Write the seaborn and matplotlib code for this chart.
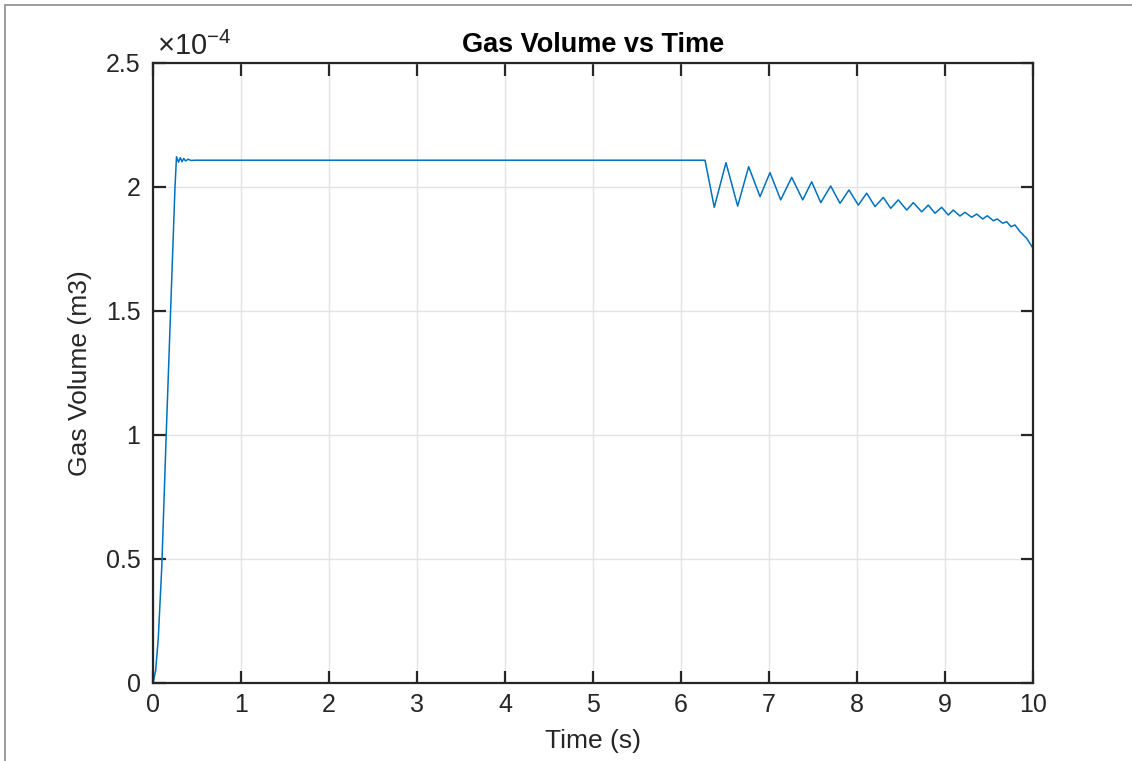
import numpy as np
import pandas as pd
import matplotlib
matplotlib.use("Agg")
import matplotlib.pyplot as plt
from matplotlib.ticker import FuncFormatter
from matplotlib.patches import Rectangle
import seaborn as sns

# ---- data (time in s, gas volume in units of 1e-4 m3) ----
time_s = [0.0, 0.03, 0.06, 0.10, 0.15, 0.20, 0.25, 0.267,
          0.29, 0.31, 0.33, 0.35, 0.37, 0.40, 0.43, 0.48,
          6.273,
          6.378, 6.511, 6.644, 6.769, 6.898, 7.011, 7.133, 7.258, 7.383, 7.485,
          7.588, 7.701, 7.807, 7.909, 8.015, 8.110, 8.205, 8.299, 8.383, 8.469,
          8.565, 8.640, 8.735, 8.810, 8.886, 8.962, 9.038, 9.094, 9.170, 9.227,
          9.303, 9.360, 9.428, 9.481, 9.549, 9.594, 9.656, 9.701, 9.750, 9.795,
          9.852, 9.928, 10.0]
volume_e4 = [0.0, 0.05, 0.18, 0.47, 1.0, 1.5, 2.0, 2.122,
             2.100, 2.118, 2.102, 2.115, 2.105, 2.112, 2.107, 2.108,
             2.108,
             1.918, 2.098, 1.923, 2.082, 1.961, 2.058, 1.948, 2.039, 1.948, 2.021,
             1.937, 2.004, 1.934, 1.988, 1.927, 1.975, 1.921, 1.958, 1.914, 1.948,
             1.907, 1.937, 1.900, 1.927, 1.894, 1.918, 1.887, 1.907, 1.883, 1.898,
             1.878, 1.891, 1.871, 1.884, 1.864, 1.871, 1.854, 1.860, 1.840, 1.847,
             1.820, 1.793, 1.753]
volume_scale = 1e-4
x_ticks = [0, 1, 2, 3, 4, 5, 6, 7, 8, 9, 10]
y_ticks_e4 = [0, 0.5, 1, 1.5, 2, 2.5]

df = pd.DataFrame({"Time (s)": time_s,
                   "Gas Volume (m3)": np.array(volume_e4) * volume_scale})

sns.set_theme(style="white")
plt.rcParams['font.family'] = ['Liberation Sans', 'DejaVu Sans']
plt.rcParams['mathtext.fontset'] = 'custom'
plt.rcParams['mathtext.rm'] = 'Liberation Sans'
plt.rcParams['mathtext.it'] = 'Liberation Sans'

fig = plt.figure(figsize=(11.32, 7.61), dpi=100)
fig.patch.set_facecolor("white")
# outer frame (partially visible in reference)
fig.add_artist(Rectangle((5 / 1132, -0.1), 1.2, 1 - 5 / 761 + 0.1,
                         transform=fig.transFigure, fill=False,
                         edgecolor="#8c8c8c", linewidth=1.2))

ax = fig.add_axes([153 / 1132, 1 - 683 / 761, 880 / 1132, 620 / 761])
sns.lineplot(data=df, x="Time (s)", y="Gas Volume (m3)", ax=ax,
             estimator=None, sort=False, color="#0072BD", linewidth=1.1)

ax.set_xlim(0, 10)
ax.set_ylim(0, 2.5e-4)
ax.set_xticks(x_ticks)
ax.set_yticks([v * volume_scale for v in y_ticks_e4])
ax.xaxis.set_major_formatter(FuncFormatter(lambda v, _: f"{v:g}"))
ax.yaxis.set_major_formatter(FuncFormatter(lambda v, _: f"{v / volume_scale:g}"))

ax.grid(True, color="#e3e3e3", linewidth=1.0)
ax.set_axisbelow(True)
for s in ax.spines.values():
    s.set_color("#262626")
    s.set_linewidth(1.6)
ax.tick_params(direction="in", length=9, width=1.6, color="#262626",
               labelsize=18, labelcolor="#262626",
               top=True, right=True, bottom=True, left=True, pad=7)
ax.tick_params(axis="y", pad=9)

ax.set_xlabel("Time (s)", fontsize=19, color="#262626", labelpad=9)
ax.set_ylabel("Gas Volume (m3)", fontsize=19, color="#262626", labelpad=10)
ax.set_title("Gas Volume vs Time", fontsize=19.5, fontweight="bold",
             color="#000000", pad=8)
ax.text(0.005, 1.003, r"$\times10^{\mathregular{-4}}$", transform=ax.transAxes,
        fontsize=21, color="#262626", ha="left", va="bottom")

fig.savefig("out.png", dpi=100)
